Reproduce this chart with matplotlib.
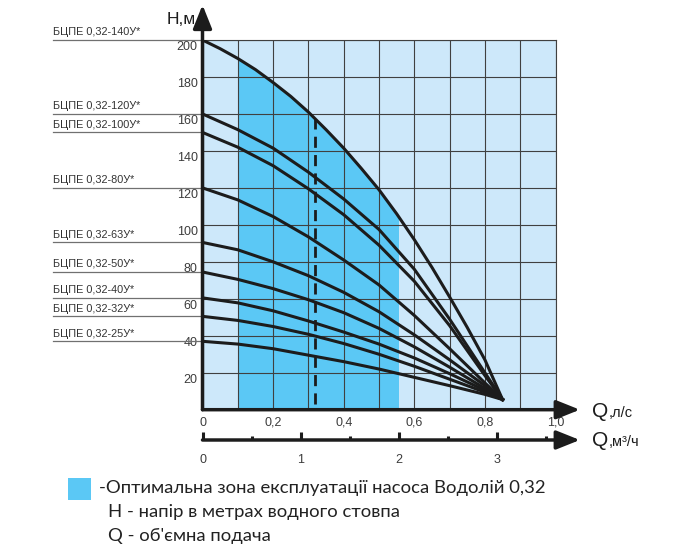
import matplotlib
matplotlib.use("Agg")
import matplotlib.pyplot as plt
from matplotlib.patches import Rectangle
from matplotlib.transforms import ScaledTranslation
import numpy as np

W, H = 700, 553
plt.rcParams['font.family'] = ['Liberation Sans', 'DejaVu Sans']

# flow, l/s
Q_LS = [0, 0.1, 0.2, 0.3, 0.4, 0.5, 0.6, 0.7, 0.8, 0.85]
Q_TOP = [0, 0.05, 0.1, 0.15, 0.2, 0.25, 0.3, 0.35, 0.4, 0.45, 0.5, 0.55, 0.6,
         0.65, 0.7, 0.75, 0.8, 0.85]

MODELS = ['БЦПЕ 0,32-140У*', 'БЦПЕ 0,32-120У*', 'БЦПЕ 0,32-100У*', 'БЦПЕ 0,32-80У*',
          'БЦПЕ 0,32-63У*', 'БЦПЕ 0,32-50У*', 'БЦПЕ 0,32-40У*', 'БЦПЕ 0,32-32У*',
          'БЦПЕ 0,32-25У*']

# head, m
H_140 = [200, 195.3, 190, 184, 177, 169.5, 161, 151.5, 141.5, 130.5, 119, 106, 92,
         77, 61, 44.5, 27, 5.5]
H_120 = [160, 151.5, 141.5, 128.5, 114, 97.5, 76, 49, 20, 5.5]
H_100 = [150, 142, 132, 119.5, 105.5, 89, 69.5, 45.5, 18.5, 5.5]
H_80 = [120, 113.5, 104.5, 93.5, 81, 67.5, 51, 33, 14.5, 5.5]
H_63 = [90.5, 86.5, 80, 72.5, 63.5, 53, 40.5, 27, 13, 5.5]
H_50 = [74.5, 70.5, 65.5, 59.5, 52.5, 44, 34, 23, 11.5, 5.5]
H_40 = [60.5, 57.8, 53.5, 48, 42, 35.5, 28, 19.5, 10.5, 5.5]
H_32 = [50.5, 48.3, 45, 40.8, 35.8, 30, 23.5, 16.5, 9.5, 5.5]
H_25 = [37, 35.5, 33, 29.5, 26, 22, 17.5, 13, 8.3, 5.5]
LOWER = [H_120, H_100, H_80, H_63, H_50, H_40, H_32, H_25]

Y_TICKS = [20, 40, 60, 80, 100, 120, 140, 160, 180, 200]
X_TICKS = [0, 0.2, 0.4, 0.6, 0.8, 1.0]
X_LABELS = ['0', '0,2', '0,4', '0,6', '0,8', '1,0']
M3H_TICKS = [0, 1, 2, 3]
M3H_MINOR = [0.5, 1.5, 2.5, 3.5]

ZONE = [0.1, 0.555]        # optimal zone, l/s
DASH_Q = 0.32
DASH_H = [3, 157]

LIGHT = '#cde8fa'
DARK = '#5bc8f5'
INK = '#1c1c1c'
GRAY = '#3c3c3c'


def fx(x):
    return x / W


def fy(y):
    return 1 - y / H


fig = plt.figure(figsize=(7, 5.53), dpi=100)
ax = fig.add_axes([fx(202.5), fy(409.7), 353 / W, 369.7 / H])
ax.set_xlim(0, 1.0)
ax.set_ylim(0, 200)
ax.set_facecolor(LIGHT)

# optimal zone under the top curve
zone = ax.fill_between(Q_TOP, 0, H_140, color=DARK, lw=0, zorder=1)
clip = Rectangle((ZONE[0], 0), ZONE[1] - ZONE[0], 200, transform=ax.transData)
zone.set_clip_path(clip)

ax.set_xticks(X_TICKS)
ax.set_xticklabels(X_LABELS)
ax.set_xticks(np.arange(0.1, 1.0, 0.2), minor=True)
ax.set_yticks(Y_TICKS)
ax.set_yticks([0], minor=True)
ax.grid(True, which='both', color='#404040', lw=0.8, zorder=2)
ax.set_axisbelow(False)
for s in ['left', 'bottom']:
    ax.spines[s].set_visible(False)
for s in ['top', 'right']:
    ax.spines[s].set_color('#404040')
    ax.spines[s].set_linewidth(0.8)
ax.tick_params(axis='both', which='both', length=0, labelsize=9, labelcolor=GRAY)
ax.tick_params(axis='x', pad=5)
ax.tick_params(axis='y', pad=3.5)
shift = ScaledTranslation(0, -4 / 72, fig.dpi_scale_trans)
for lbl in ax.get_yticklabels():
    lbl.set_transform(lbl.get_transform() + shift)

ax.plot(Q_TOP, H_140, color=INK, lw=2.2, solid_joinstyle='round', zorder=4)
for h in LOWER:
    ax.plot(Q_LS, h, color=INK, lw=2.2, solid_joinstyle='round', zorder=4)

ax.plot([DASH_Q, DASH_Q], DASH_H, color=INK, lw=2, dashes=(4, 2.6), zorder=4)

# model labels with underline to the axis
for name, h in zip(MODELS, [H_140] + LOWER):
    ax.plot([-0.424, 0], [h[0], h[0]], color='#707070', lw=0.9, clip_on=False, zorder=3)
    ax.annotate(name, xy=(-0.424, h[0]), xytext=(0, 2), textcoords='offset points',
                fontsize=7.8, color='#333333', ha='left', va='bottom', annotation_clip=False)

# axis arrows
arrow = dict(arrowstyle='-|>,head_length=0.55,head_width=0.22', mutation_scale=26,
             lw=2.5, color=INK, shrinkA=0, shrinkB=0)
ax.annotate('', xy=(0, 219), xytext=(0, 0), arrowprops=arrow, annotation_clip=False)
ax.annotate('', xy=(1.069, 0), xytext=(0, 0), arrowprops=arrow, annotation_clip=False)
sec_y = -(440 - 409.7) / 369.7
ax.annotate('', xy=(1.069, sec_y), xytext=(0, sec_y), xycoords=ax.get_xaxis_transform(),
            arrowprops=arrow, annotation_clip=False)

sec = ax.secondary_xaxis(sec_y, functions=(lambda q: np.asarray(q) * 3.6,
                                           lambda m: np.asarray(m) / 3.6))
sec.set_xticks(M3H_TICKS)
sec.set_xticks(M3H_MINOR, minor=True)
sec.spines['bottom'].set_visible(False)
sec.tick_params(which='major', direction='in', length=6, width=2.2, color=INK,
                labelsize=9, labelcolor=GRAY, pad=10)
sec.tick_params(which='minor', direction='in', length=3, width=2.2, color=INK)

# axis names
fig.text(fx(196), fy(24), 'Н,м', fontsize=12.5, color=INK, ha='right', va='baseline')
fig.text(fx(592), fy(417), 'Q', fontsize=15, color=INK, ha='left', va='baseline')
fig.text(fx(609), fy(417), ',л/с', fontsize=10.5, color=INK, ha='left', va='baseline')
fig.text(fx(592), fy(446), 'Q', fontsize=15, color=INK, ha='left', va='baseline')
fig.text(fx(609), fy(446), ',м³/ч', fontsize=10.5, color=INK, ha='left', va='baseline')

# legend
fig.add_artist(Rectangle((fx(68), fy(500)), 23 / W, 22 / H, transform=fig.transFigure,
                         color=DARK, lw=0))
leg_font = ['Lato', 'DejaVu Sans']
fig.text(fx(99), fy(488), '-Оптимальна зона експлуатації насоса Водолій 0,32',
         fontsize=13.3, family=leg_font, color='#222222', ha='left', va='center')
fig.text(fx(108), fy(512), 'Н - напір в метрах водного стовпа',
         fontsize=13.3, family=leg_font, color='#222222', ha='left', va='center')
fig.text(fx(108), fy(536), "Q - об'ємна подача",
         fontsize=13.3, family=leg_font, color='#222222', ha='left', va='center')

fig.savefig('out.png', dpi=100)
